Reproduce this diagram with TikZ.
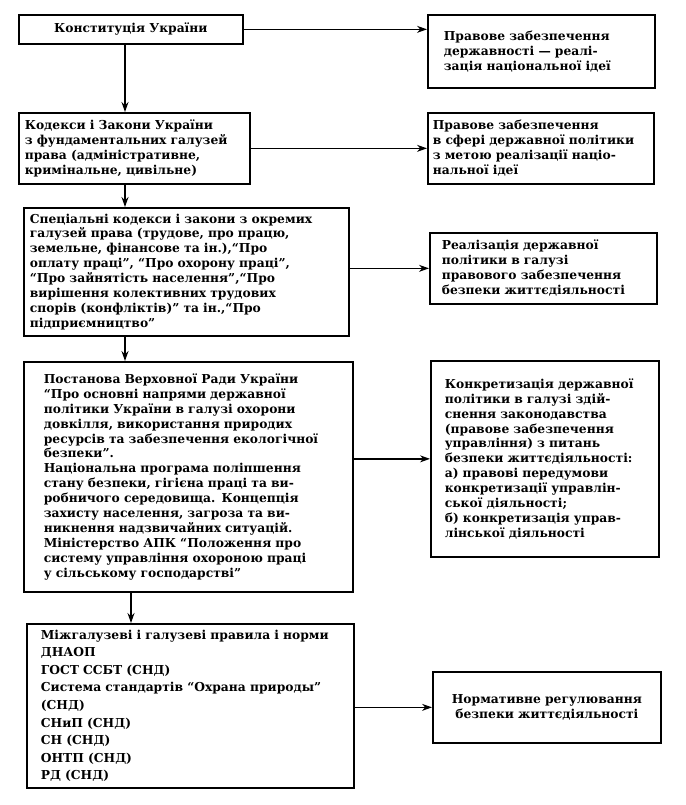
\documentclass[tikz,border=0pt]{standalone}
\usepackage{fontspec}
\setmainfont{DejaVu Serif}
\usepackage{tikz}
\usetikzlibrary{positioning,arrows.meta}
\tikzset{
  >=Stealth,
  every node/.style={font=\bfseries\fontsize{12.3}{14.9}\selectfont},
  % --- boxes
  blk/.style  = {draw=black, line width=1.7pt, fill=white, align=left,
                 anchor=north west, inner ysep=2pt},
  % --- arrows
  e/.style    = {-{Stealth[length=10pt,width=7pt]}, line width=1.3pt},
}
\begin{document}
\begin{tikzpicture}[x=1pt,y=-1pt]
  \useasboundingbox (0,0) rectangle (685,805);
  \coordinate (spine) at (125,0);
  \coordinate (spineb) at (131,0);

  % left column
  \node[blk, minimum width=224pt, minimum height=29pt, inner xsep=8pt,
        text width=208pt, align=center] (konst) at (18,14) {Конституція України};
  \node[blk, minimum width=231pt, minimum height=71pt, inner xsep=6pt,
        text width=219pt] (kodeksy) at (18,112)
    {Кодекси і Закони України\\ з фундаментальних галузей\\ права (адміністративне,\\ кримінальне, цивільне)};
  \node[blk, minimum width=325pt, minimum height=128pt, inner xsep=6pt,
        text width=313pt] (spec) at (23,207)
    {Спеціальні кодекси і закони з окремих\\ галузей права (трудове, про працю,\\
     земельне, фінансове та ін.),“Про\\ оплату праці”, “Про охорону праці”,\\
     “Про зайнятість населення”,“Про\\ вирішення колективних трудових\\
     спорів (конфліктів)” та ін.,“Про\\ підприємництво”};
  \node[blk, minimum width=329pt, minimum height=230pt, inner xsep=20pt,
        text width=289pt] (postanova) at (23,361)
    {Постанова Верховної Ради України\\ “Про основні напрями державної\\
     політики України в галузі охорони\\ довкілля, використання природих\\
     ресурсів та забезпечення екологічної\\ безпеки”.\\
     Національна програма поліпшення\\ стану безпеки, гігієна праці та ви-\\
     робничого середовища. Концепція\\ захисту населення, загроза та ви-\\
     никнення надзвичайних ситуацій.\\ Міністерство АПК “Положення про\\
     систему управління охороною праці\\ у сільському господарстві”};
  \node[blk, minimum width=327pt, minimum height=164pt, inner xsep=14pt,
        text width=299pt, font=\bfseries\fontsize{12.3}{17.6}\selectfont] (normy) at (26,623)
    {Міжгалузеві і галузеві правила і норми\\ ДНАОП\\ ГОСТ ССБТ (СНД)\\
     Система стандартів “Охрана природы”\\ (СНД)\\ СНиП (СНД)\\ СН (СНД)\\
     ОНТП (СНД)\\ РД (СНД)};

  % right column
  \node[blk, minimum width=227pt, minimum height=73pt, inner xsep=16pt,
        text width=195pt] (pravdz) at (427,14)
    {Правове забезпечення\\ державності — реалі-\\ зація національної ідеї};
  \node[blk, minimum width=226pt, minimum height=71pt, inner xsep=5pt,
        text width=216pt] (pravpol) at (427,112)
    {Правове забезпечення\\ в сфері державної політики\\ з метою реалізації націо-\\ нальної ідеї};
  \node[blk, minimum width=227pt, minimum height=71pt, inner xsep=12pt,
        text width=203pt] (realiz) at (429,232)
    {Реалізація державної\\ політики в галузі\\ правового забезпечення\\ безпеки життєдіяльності};
  \node[blk, minimum width=228pt, minimum height=196pt, inner xsep=14pt,
        text width=200pt] (konkr) at (430,360)
    {Конкретизація державної\\ політики в галузі здій-\\ снення законодавства\\
     (правове забезпечення\\ управління) з питань\\ безпеки життєдіяльності:\\
     а) правові передумови\\ конкретизації управлін-\\ ської діяльності;\\
     б) конкретизація управ-\\ лінської діяльності};
  \node[blk, minimum width=228pt, minimum height=71pt, inner xsep=8pt,
        text width=212pt, align=center] (regul) at (432,671)
    {Нормативне регулювання\\ безпеки життєдіяльності};

  % vertical chain
  \draw[e] (konst.south -| spine) -- (kodeksy.north -| spine);
  \draw[e] (kodeksy.south -| spine) -- (spec.north -| spine);
  \draw[e] (spec.south -| spine) -- (postanova.north -| spine);
  \draw[e] (postanova.south -| spineb) -- (normy.north -| spineb);

  % horizontal arrows
  \draw[e] (konst.east) -- (konst.east -| pravdz.west);
  \draw[e] (pravpol.west -| kodeksy.east) -- (pravpol.west);
  \draw[e] (realiz.west -| spec.east) -- (realiz.west);
  \draw[e] (konkr.west -| postanova.east) -- (konkr.west);
  \draw[e] (regul.west -| normy.east) -- (regul.west);
\end{tikzpicture}
\end{document}
